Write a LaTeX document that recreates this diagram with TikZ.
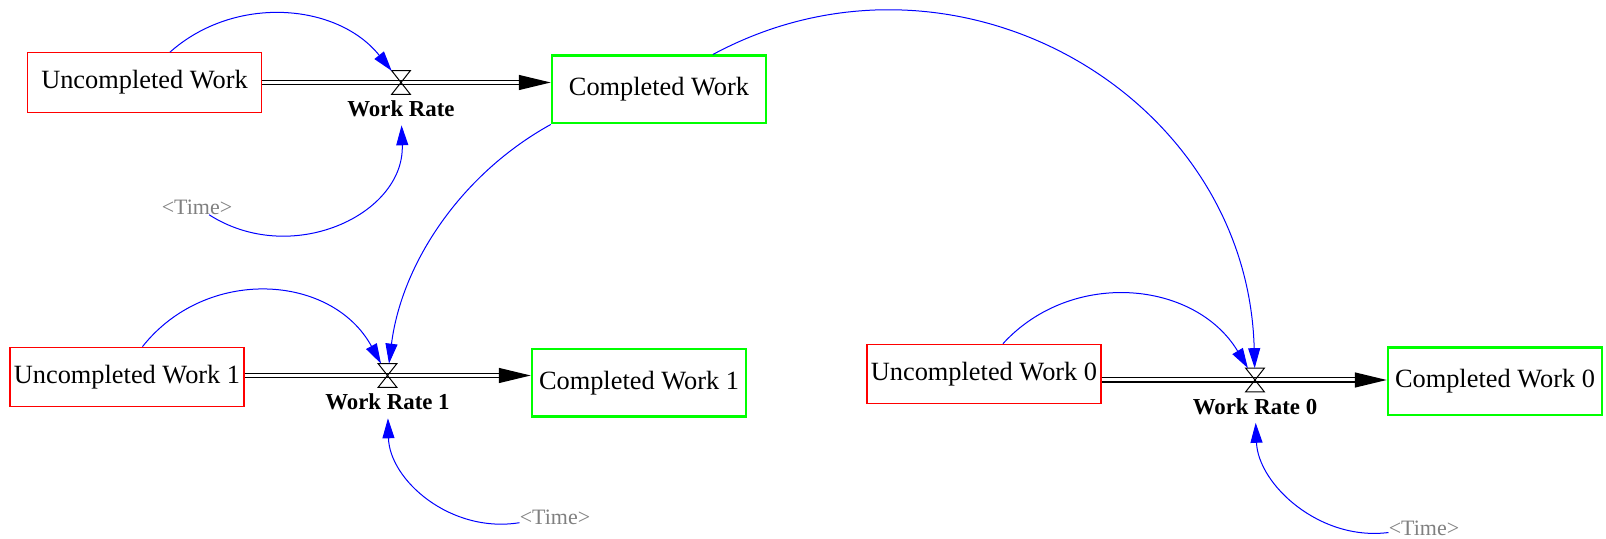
\documentclass[tikz,border=0pt]{standalone}
\usepackage{fontspec}
\setmainfont{Liberation Serif}
\usepackage{tikz}
\usetikzlibrary{positioning,arrows.meta}
\tikzset{enlace/.style={draw=blue, line width=0.02cm, -{Triangle[length=0.4cm,width=0.24cm]}}}
\tikzset{flujo/.style={line width=0.026cm, double, double distance=0.06cm, -{Triangle[length=0.64cm,width=0.3cm]}}}
\tikzset{pendiente/.style={draw=red, line width=0.022cm, minimum width=4.68cm, minimum height=1.19cm, font=\fontsize{15}{18}\selectfont}}
\tikzset{completado/.style={draw=green, line width=0.05cm, minimum width=4.28cm, minimum height=1.35cm, font=\fontsize{15}{18}\selectfont}}
\tikzset{valvula/.style={minimum width=0.36cm, minimum height=0.46cm}}
\tikzset{tasa/.style={font=\fontsize{13}{15}\selectfont\bfseries}}
\tikzset{tiempo/.style={text=gray, font=\fontsize{12.5}{15}\selectfont}}

\begin{document}
\begin{tikzpicture}[scale = 1,every node/.style={inner sep=0pt}]
            \useasboundingbox (0,0) rectangle (32.12,-10.78);
            % fila de arriba
            \node[pendiente] (pend) at (2.89,-1.65) {Uncompleted Work};
            \node[completado] (comp) at (13.18,-1.79) {Completed Work};
            \node[valvula] (v) at (8.02,-1.65) {};
            \node[tasa, below= 3.5pt of v] (tasa) {Work Rate};
            \node[tiempo] (t) at (3.94,-4.14) {<Time>};
            % fila de abajo, izquierda
            \node[pendiente] (pend1) at (2.54,-7.54) {Uncompleted Work 1};
            \node[completado] (comp1) at (12.78,-7.66) {Completed Work 1};
            \node[valvula] (v1) at (7.75,-7.51) {};
            \node[tasa, below= 3.5pt of v1] (tasa1) {Work Rate 1};
            \node[tiempo] (t1) at (11.10,-10.34) {<Time>};
            % fila de abajo, derecha
            \node[pendiente] (pend0) at (19.68,-7.48) {Uncompleted Work 0};
            \node[completado] (comp0) at (29.90,-7.63) {Completed Work 0};
            \node[valvula] (v0) at (25.10,-7.60) {};
            \node[tasa, below= 3.5pt of v0] (tasa0) {Work Rate 0};
            \node[tiempo] (t0) at (28.48,-10.56) {<Time>};

            \draw[flujo] (pend.east |- v.center) -- (comp.west |- v.center);
            \draw[flujo] (pend1.east |- v1.center) -- (comp1.west |- v1.center);
            \draw[flujo] (pend0.east |- v0.center) -- (comp0.west |- v0.center);
            \foreach \n in {v,v1,v0}
                \draw[line width=0.02cm] (\n.north west) -- (\n.south east) -- (\n.south west) -- (\n.north east) -- cycle;

            \draw[enlace] (pend.50) to[out=41.7,in=128.8] (v);
            \draw[enlace, shorten >=4.5pt] (t) to[out=-32.8,in=-88,looseness=1.16] (tasa);
            \draw[enlace] (comp.south west) to[out=208.9,in=82.9,looseness=0.9] (v1);
            \draw[enlace] (comp.33) to[out=28.3,in=91.5,looseness=1.12] (v0);
            \draw[enlace] (pend1.63) to[out=51.7,in=118.8,looseness=1.1] (v1);
            \draw[enlace, shorten >=4.5pt] (t1) to[out=189.2,in=271.6,looseness=1.03] (tasa1);
            \draw[enlace] (pend0.58) to[out=47.5,in=121,looseness=1.06] (v0);
            \draw[enlace, shorten >=4.5pt] (t0) to[out=187.4,in=272.4] (tasa0);
        \end{tikzpicture}
\end{document}
